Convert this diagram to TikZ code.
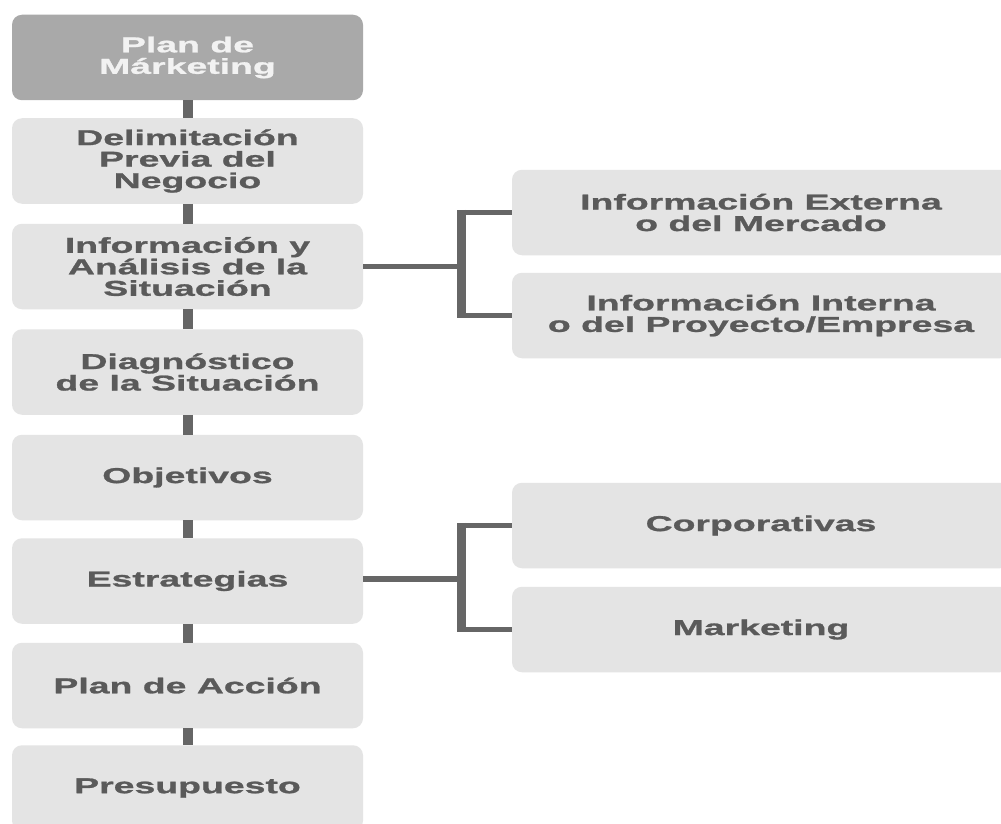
\documentclass[tikz,border=0pt]{standalone}
\usepackage{fontspec}
\setmainfont{Liberation Sans}[FakeStretch=1.74,FakeBold=1.2]
\definecolor{boxfill}{HTML}{E4E4E4}
\definecolor{topfill}{HTML}{A9A9A9}
\definecolor{txtgray}{HTML}{5A5A5A}
\definecolor{linegray}{HTML}{666666}
\begin{document}
\begin{tikzpicture}[x=1pt,y=-1pt,
  box/.style={rectangle, rounded corners=10pt, fill=boxfill, draw=none,
    minimum width=351pt, minimum height=85.5pt, inner sep=0pt, align=center,
    text=txtgray, font=\fontsize{21.5}{21.5}\selectfont\bfseries},
  topbox/.style={box, fill=topfill, text=white!95!black},
  rbox/.style={box, minimum width=498pt},
  vbar/.style={draw=linegray, line width=10pt},
  hline/.style={draw=linegray, line width=5.5pt},
  vline/.style={draw=linegray, line width=9pt}]
\useasboundingbox[fill=white] (0,0) rectangle (1001,824);
% left column
\node[topbox] (n1) at (187.5,57.5) {Plan de\\Márketing};
\node[box] (n2) at (187.5,161) {Delimitación\\Previa del\\Negocio};
\node[box] (n3) at (187.5,266.5) {Información y\\Análisis de la\\Situación};
\node[box] (n4) at (187.5,372) {Diagnóstico\\de la Situación};
\node[box] (n5) at (187.5,477.5) {Objetivos};
\node[box] (n6) at (187.5,581) {Estrategias};
\node[box] (n7) at (187.5,685.5) {Plan de Acción};
\node[box] (n8) at (187.5,788) {Presupuesto};
% right column
\node[rbox] (r1) at (761,212.5) {Información Externa\\o del Mercado};
\node[rbox] (r2) at (761,315.5) {Información Interna\\o del Proyecto/Empresa};
\node[rbox] (r3) at (761,525.5) {Corporativas};
\node[rbox] (r4) at (761,629.5) {Marketing};
% vertical bars
\foreach \a/\b in {n1/n2,n2/n3,n3/n4,n4/n5,n5/n6,n6/n7,n7/n8}
  \draw[vbar] (\a.south) -- (\b.north);
% brackets
\coordinate (b1) at (461,266.5);
\coordinate (b2) at (461,579);
\draw[hline] (n3.east) -- (b1);
\draw[hline] (b1 |- r1.west) -- (r1.west);
\draw[hline] (b1 |- r2.west) -- (r2.west);
\draw[vline] ([yshift=2.75pt]b1 |- r1.west) -- ([yshift=-2.75pt]b1 |- r2.west);
\draw[hline] (n6.east |- b2) -- (b2);
\draw[hline] (b2 |- r3.west) -- (r3.west);
\draw[hline] (b2 |- r4.west) -- (r4.west);
\draw[vline] ([yshift=2.75pt]b2 |- r3.west) -- ([yshift=-2.75pt]b2 |- r4.west);
\end{tikzpicture}
\end{document}
